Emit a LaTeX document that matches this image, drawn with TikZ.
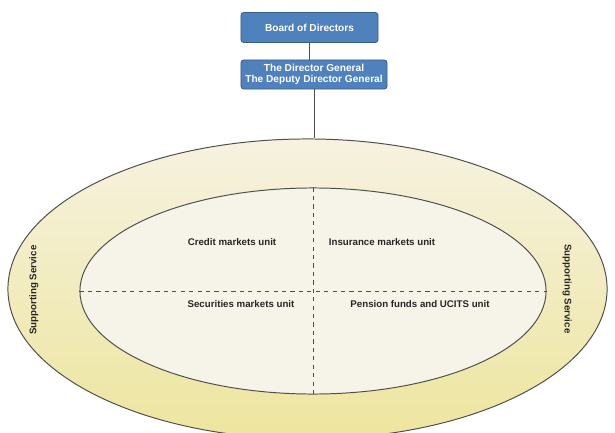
\documentclass[tikz,border=0pt]{standalone}
\usepackage{fontspec}
\setsansfont{Liberation Sans}
\usepackage{tikz}
\usetikzlibrary{shapes.geometric}
\definecolor{boxblue}{RGB}{79,129,189}
\definecolor{boxedge}{RGB}{56,93,138}
\definecolor{ringtop}{RGB}{246,242,224}
\definecolor{ringbot}{RGB}{237,229,158}
\definecolor{corefill}{RGB}{246,244,233}
\definecolor{rim}{RGB}{80,80,75}
\tikzset{
  topbox/.style={draw=boxedge, fill=boxblue, rounded corners=2pt, line width=0.6pt,
    text=white, font=\sffamily\bfseries\fontsize{7.2}{8.2}\selectfont, align=center,
    inner sep=0pt},
  unitlabel/.style={font=\sffamily\bfseries\fontsize{6.9}{8}\selectfont, text=black!85},
  ring/.style={ellipse, draw=rim, line width=0.7pt, inner sep=0pt},
  divider/.style={draw=black!70, dashed, line width=0.5pt}
}

\begin{document}
\begin{tikzpicture}[x=0.025cm, y=-0.025cm]
    % page frame
    \useasboundingbox (0,0) rectangle (615,432);
    \clip (0,0) rectangle (615,432);
    % the two rings
    \node[ring, top color=ringtop, bottom color=ringbot,
      minimum width=14.975cm, minimum height=7.5cm] (outer) at (307.5,289) {};
    \node[ring, fill=corefill, minimum width=11.65cm, minimum height=5.15cm] (inner) at (313,291) {};
    % boxes on top
    \node[topbox, minimum width=3.425cm, minimum height=0.75cm] (board) at (309.5,27.5) {Board of Directors};
    \node[topbox, minimum width=3.65cm, minimum height=0.725cm] (dg) at (314,74.5) {The Director General\\The Deputy Director General};
    \draw[rim, line width=0.6pt] (board.south) -- (board.south |- dg.north);
    \draw[rim, line width=0.6pt] (dg.south) -- (dg.south |- outer.north);
    % quarters
    \draw[divider] (inner.west) -- (inner.east);
    \draw[divider] (inner.north) -- (inner.south);
    \node[unitlabel] (credit) at (232,242) {Credit markets unit};
    \node[unitlabel] (insur) at (382,242) {Insurance markets unit};
    \node[unitlabel] (secur) at (241,304) {Securities markets unit};
    \node[unitlabel] (pension) at (420,304) {Pension funds and UCITS unit};
    \node[unitlabel, rotate=90] (suppl) at (34,290) {Supporting Service};
    \node[unitlabel, rotate=-90] (suppr) at (567,289) {Supporting Service};
\end{tikzpicture}
\end{document}
